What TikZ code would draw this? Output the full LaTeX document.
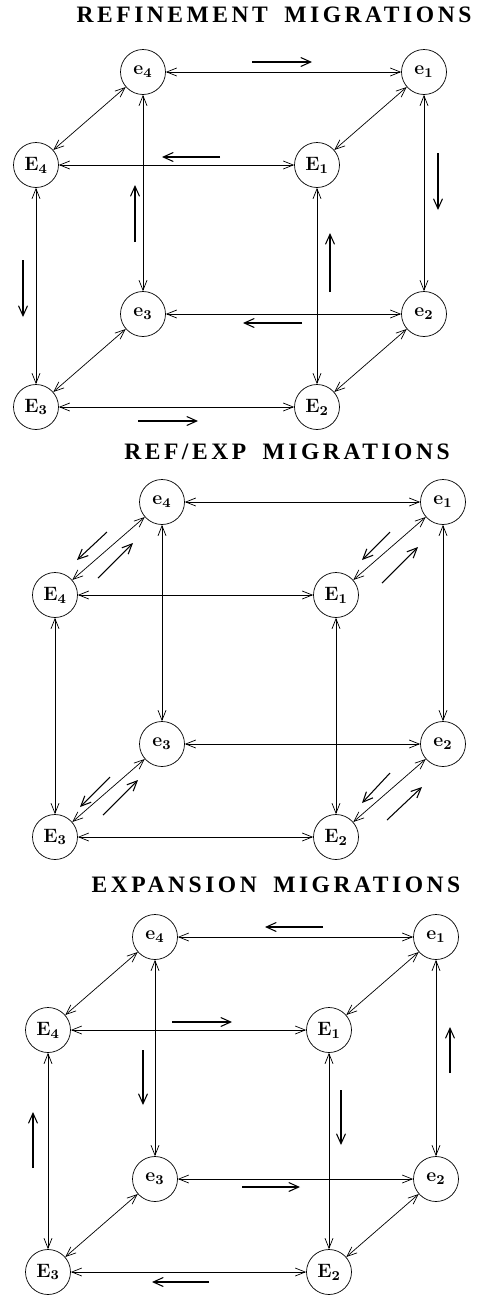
\documentclass[tikz,border=0pt]{standalone}
\usepackage{fontspec}
\newfontfamily\ttlfont{Liberation Serif}[LetterSpace=15]
\usetikzlibrary{arrows.meta}
\begin{document}
\begin{tikzpicture}[x=.02cm,y=-.02cm,
  st/.style={circle,draw,thin,minimum size=.9cm,inner sep=0pt,font=\fontsize{11}{13}\selectfont\bfseries},
  edge/.style={{Straight Barb[length=2mm,width=1.6mm]}-{Straight Barb[length=2mm,width=1.6mm]},thin},
  mig/.style={-{Straight Barb[length=2mm,width=1.8mm]},semithick},
  ttl/.style={inner sep=0pt,font=\ttlfont\bfseries\fontsize{13.4}{15}\selectfont}]
\useasboundingbox (0,0) rectangle (481,1295);
\node[ttl] (ta) at (274,15) {REFINEMENT\hspace{.3em} MIGRATIONS};
\node[ttl] (tb) at (287,452) {REF/EXP\hspace{.3em} MIGRATIONS};
\node[ttl] (tc) at (276,885) {EXPANSION\hspace{.3em} MIGRATIONS};
\foreach \c/\x/\y in {a/143/72,b/162/502,c/155/937} {
  \node[st] (\c-e4) at (\x,\y) {e\textsubscript{4}};
  \node[st] (\c-e1) at (\x+281,\y) {e\textsubscript{1}};
  \node[st] (\c-e3) at (\x,\y+242) {e\textsubscript{3}};
  \node[st] (\c-e2) at (\x+281,\y+242) {e\textsubscript{2}};
  \node[st] (\c-E4) at (\x-107,\y+93) {E\textsubscript{4}};
  \node[st] (\c-E1) at (\x+174,\y+93) {E\textsubscript{1}};
  \node[st] (\c-E3) at (\x-107,\y+335) {E\textsubscript{3}};
  \node[st] (\c-E2) at (\x+174,\y+335) {E\textsubscript{2}};
  \foreach \u/\v in {e4/e1,e3/e2,E4/E1,E3/E2,e4/e3,e1/e2,E4/E3,E1/E2,e4/E4,e1/E1,e3/E3,e2/E2}
    \draw[edge] (\c-\u)--(\c-\v);
}
% refinement
\draw[mig] (252,62)--(312,62);
\draw[mig] (220,157)--(162,157);
\draw[mig] (135,242)--(135,185);
\draw[mig] (438,153)--(438,210);
\draw[mig] (23,260)--(23,317);
\draw[mig] (330,292)--(330,233);
\draw[mig] (302,323)--(243,323);
\draw[mig] (138,421)--(198,421);
% ref/exp
\draw[mig] (107,532)--(77,560);
\draw[mig] (98,578)--(133,543);
\draw[mig] (390,532)--(362,560);
\draw[mig] (382,583)--(418,547);
\draw[mig] (110,777)--(80,807);
\draw[mig] (103,815)--(138,780);
\draw[mig] (390,773)--(362,803);
\draw[mig] (387,820)--(422,787);
% expansion
\draw[mig] (323,927)--(265,927);
\draw[mig] (172,1022)--(232,1022);
\draw[mig] (143,1050)--(143,1105);
\draw[mig] (450,1073)--(450,1027);
\draw[mig] (33,1168)--(33,1112);
\draw[mig] (341,1090)--(341,1145);
\draw[mig] (242,1187)--(300,1187);
\draw[mig] (209,1282)--(152,1282);
\end{tikzpicture}
\end{document}
